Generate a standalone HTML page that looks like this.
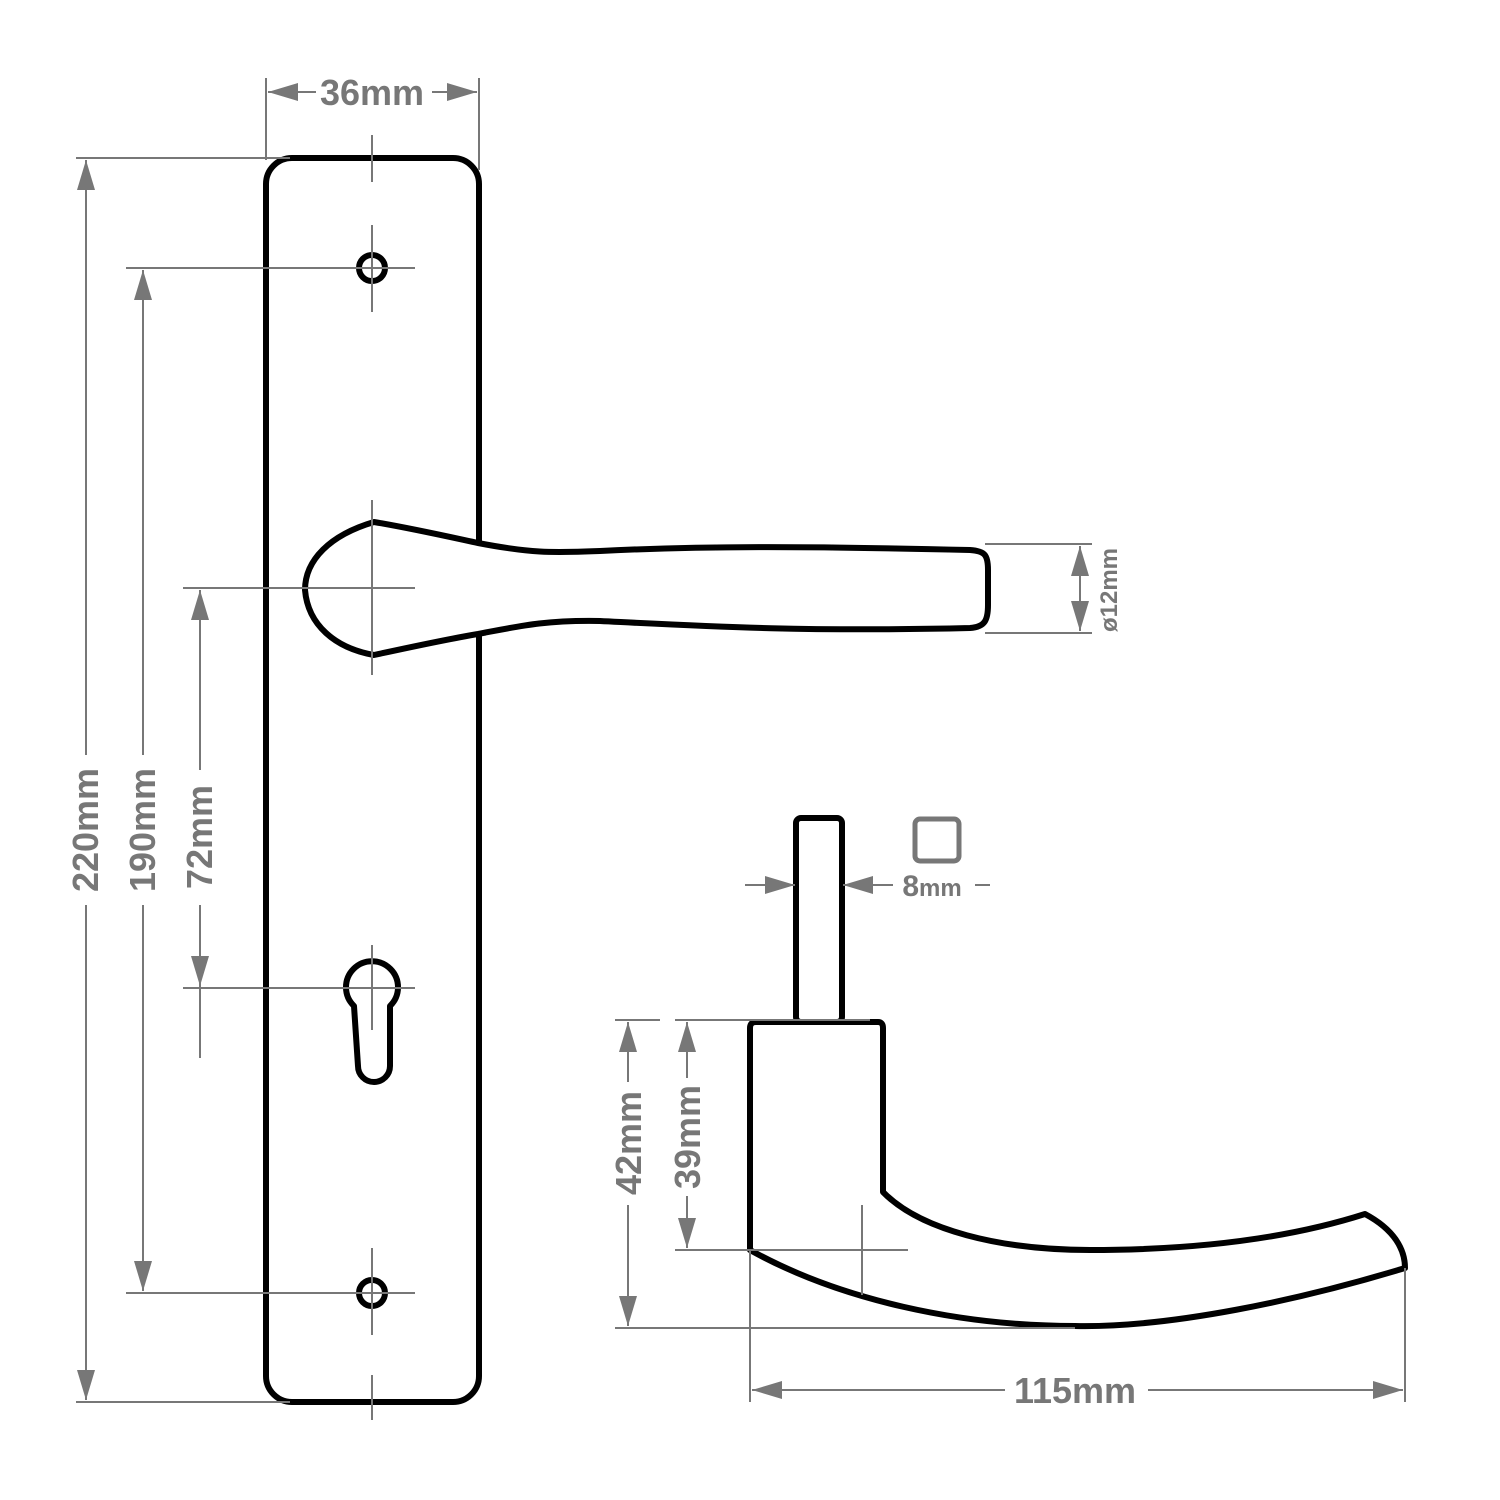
<!DOCTYPE html>
<html><head><meta charset="utf-8"><style>html,body{margin:0;padding:0;background:#fff}svg{display:block}</style></head>
<body>
<svg width="1500" height="1500" viewBox="0 0 1500 1500" xmlns="http://www.w3.org/2000/svg">
<defs>
<marker id="b" viewBox="0 0 10 10" refX="10" refY="5" markerWidth="30" markerHeight="18" markerUnits="userSpaceOnUse" orient="auto-start-reverse" preserveAspectRatio="none"><path d="M0,0 L10,5 L0,10 z" fill="#777"/></marker>
</defs>
<!-- plate & shapes -->
<g stroke="#000" stroke-width="6" fill="none" stroke-linejoin="round">
<rect x="266" y="158" width="213" height="1244" rx="26" fill="#fff"/>
<circle cx="372" cy="268" r="13"/><circle cx="372" cy="1293" r="13"/>
<path d="M354,1006 A26,26 0 1 1 390,1006 L390,1066 A16,16 0 0 1 358,1066 Z"/>
<path d="M374,522 C330,535 305,560 305,590 C308,625 335,648 374,655 C420,645 460,637 478,634 C520,626 545,620 600,621 C700,626 800,632 970,628 C985,627 988,620 988,605 L988,570 C988,555 985,551 970,550 C800,546 700,546 600,551 C550,553 530,553 478,543 C450,537 410,528 374,522 Z" fill="#fff"/>
<rect x="796" y="818" width="46" height="204" rx="5" fill="#fff"/>
<path d="M750,1250 L750,1028 Q750,1022 756,1022 L878,1022 Q883,1022 883,1028 L883,1192 C920,1230 1000,1250 1090,1250 C1200,1250 1290,1238 1365,1214 C1395,1230 1405,1250 1405,1268 C1300,1300 1170,1328 1075,1326 C960,1326 840,1300 750,1250 Z"/>
</g>
<g stroke="#777" stroke-width="2" fill="none">
<line x1="266" y1="78" x2="266" y2="160"/><line x1="479" y1="78" x2="479" y2="170"/>
<line x1="268" y1="92" x2="316" y2="92" marker-start="url(#b)"/><line x1="432" y1="92" x2="477" y2="92" marker-end="url(#b)"/>
<line x1="76" y1="158" x2="290" y2="158"/><line x1="76" y1="1402" x2="290" y2="1402"/>
<line x1="86" y1="160" x2="86" y2="755" marker-start="url(#b)"/><line x1="86" y1="905" x2="86" y2="1400" marker-end="url(#b)"/>
<line x1="126" y1="268" x2="415" y2="268"/><line x1="126" y1="1293" x2="415" y2="1293"/>
<line x1="143" y1="270" x2="143" y2="755" marker-start="url(#b)"/><line x1="143" y1="905" x2="143" y2="1291" marker-end="url(#b)"/>
<line x1="183" y1="588" x2="415" y2="588"/><line x1="183" y1="988" x2="415" y2="988"/>
<line x1="200" y1="590" x2="200" y2="770" marker-start="url(#b)"/><line x1="200" y1="905" x2="200" y2="986" marker-end="url(#b)"/><line x1="200" y1="986" x2="200" y2="1058"/>
<line x1="372" y1="135" x2="372" y2="182"/><line x1="372" y1="225" x2="372" y2="312"/><line x1="372" y1="500" x2="372" y2="675"/>
<line x1="372" y1="945" x2="372" y2="1030"/><line x1="372" y1="1248" x2="372" y2="1335"/><line x1="372" y1="1375" x2="372" y2="1420"/>
<line x1="985" y1="544" x2="1092" y2="544"/><line x1="985" y1="633" x2="1092" y2="633"/>
<line x1="1080" y1="546" x2="1080" y2="631" marker-start="url(#b)" marker-end="url(#b)"/>
<line x1="745" y1="885" x2="795" y2="885" marker-end="url(#b)"/><line x1="843" y1="885" x2="893" y2="885" marker-start="url(#b)"/>
<line x1="975" y1="885" x2="990" y2="885"/>
<line x1="615" y1="1020" x2="660" y2="1020"/><line x1="615" y1="1328" x2="1075" y2="1328"/>
<line x1="628" y1="1022" x2="628" y2="1082" marker-start="url(#b)"/><line x1="628" y1="1205" x2="628" y2="1326" marker-end="url(#b)"/>
<line x1="675" y1="1020" x2="870" y2="1020"/><line x1="675" y1="1250" x2="908" y2="1250"/>
<line x1="687" y1="1022" x2="687" y2="1078" marker-start="url(#b)"/><line x1="687" y1="1196" x2="687" y2="1248" marker-end="url(#b)"/>
<line x1="862" y1="1205" x2="862" y2="1295"/>
<line x1="750" y1="1250" x2="750" y2="1402"/><line x1="1405" y1="1268" x2="1405" y2="1402"/>
<line x1="752" y1="1390" x2="1005" y2="1390" marker-start="url(#b)"/><line x1="1148" y1="1390" x2="1403" y2="1390" marker-end="url(#b)"/>
</g>
<rect x="915" y="819" width="44" height="42" rx="5" fill="none" stroke="#777" stroke-width="5"/>
<g fill="#777" font-family="'Liberation Sans',sans-serif" font-weight="bold">
<text x="372" y="105" font-size="36" text-anchor="middle">36mm</text>
<text x="932" y="896" font-size="30" text-anchor="middle">8<tspan font-size="24">mm</tspan></text>
<text x="1075" y="1403" font-size="36" text-anchor="middle">115mm</text>
<text transform="translate(98,830) rotate(-90)" font-size="36" text-anchor="middle">220mm</text>
<text transform="translate(155,830) rotate(-90)" font-size="36" text-anchor="middle">190mm</text>
<text transform="translate(212,837) rotate(-90)" font-size="36" text-anchor="middle">72mm</text>
<text transform="translate(641,1143) rotate(-90)" font-size="36" text-anchor="middle">42mm</text>
<text transform="translate(700,1137) rotate(-90)" font-size="36" text-anchor="middle">39mm</text>
<text transform="translate(1117,590) rotate(-90)" font-size="24" text-anchor="middle">ø12mm</text>
</g>
</svg>
</body></html>
